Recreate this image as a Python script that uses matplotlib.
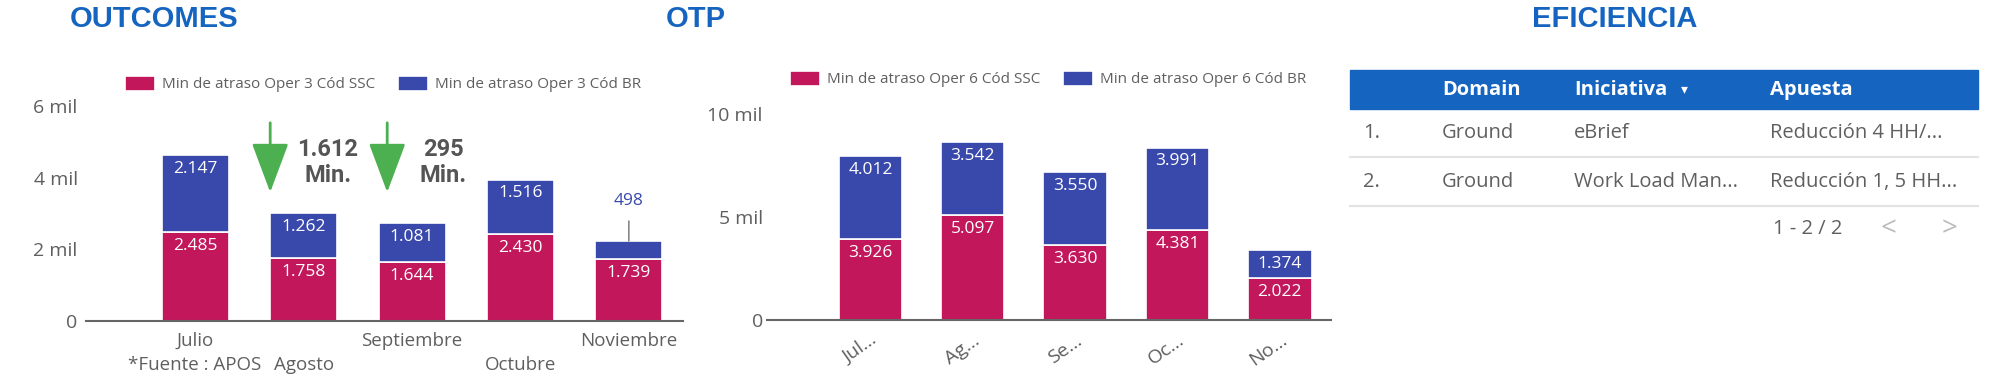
import matplotlib.pyplot as plt
from matplotlib.patches import Rectangle
import numpy as np

# OUTCOMES data
months_1 = ["Julio", "Agosto", "Septiembre", "Octubre", "Noviembre"]
ssc_1 = [2485, 1758, 1644, 2430, 1739]
br_1 = [2147, 1262, 1081, 1516, 498]

# OTP data
months_2 = ["Jul...", "Ag...", "Se...", "Oc...", "No..."]
ssc_2 = [3926, 5097, 3630, 4381, 2022]
br_2 = [4012, 3542, 3550, 3991, 1374]

# EFICIENCIA table
tbl_cols = ["Domain", "Iniciativa", "Apuesta"]
tbl_domain = ["Ground", "Ground"]
tbl_iniciativa = ["eBrief", "Work Load Man..."]
tbl_apuesta = ["Reducción 4 HH/...", "Reducción 1, 5 HH..."]

PINK = "#C2185B"
BLUE = "#3949AB"
TITLE = "#1565C0"
GRAY = "#5f5f5f"
GREEN = "#4CAF50"
FONT = "Open Sans"

W, H = 2000, 381
fig = plt.figure(figsize=(W / 100, H / 100), dpi=100)
plt.rcParams['font.family'] = [FONT, 'DejaVu Sans']


def fmt(v):
    return f"{v:,}".replace(",", ".")


def px_axes(left, right, top, bottom):
    return fig.add_axes([left / W, 1 - bottom / H, (right - left) / W, (bottom - top) / H])


def stacked(ax, cats, ssc, br, ymax, ticks, ticklabels, leg_labels, leg_center, inside_min):
    x = np.arange(len(cats))
    ax.bar(x, ssc, width=0.62, color=PINK, edgecolor="white", linewidth=1.2, label=leg_labels[0])
    ax.bar(x, br, width=0.62, bottom=ssc, color=BLUE, edgecolor="white", linewidth=1.2, label=leg_labels[1])
    ax.set_ylim(0, ymax)
    ax.set_xlim(-1.01, 4.5)
    for s in ["top", "right", "left"]:
        ax.spines[s].set_visible(False)
    ax.spines["bottom"].set_color("#666666")
    ax.spines["bottom"].set_linewidth(1.5)
    ax.set_yticks(ticks, ticklabels)
    ax.tick_params(axis="y", length=0, labelsize=14, labelcolor=GRAY, pad=6)
    ax.tick_params(axis="x", length=0, labelsize=13.5, labelcolor=GRAY)
    for i in range(len(cats)):
        ax.annotate(fmt(ssc[i]), (x[i], ssc[i]), xytext=(0, -10), textcoords="offset points",
                    ha="center", va="center", color="white", fontsize=12.5)
        top = ssc[i] + br[i]
        if br[i] >= inside_min:
            ax.annotate(fmt(br[i]), (x[i], top), xytext=(0, -10), textcoords="offset points",
                        ha="center", va="center", color="white", fontsize=12.5)
        else:
            ax.annotate(fmt(br[i]), (x[i], top), xytext=(0, 29), textcoords="offset points",
                        ha="center", va="center", color=BLUE, fontsize=12.5,
                        arrowprops=dict(arrowstyle="-", color="#888888", lw=1.2, shrinkA=7, shrinkB=0))
    leg = ax.legend(loc="center", bbox_to_anchor=(leg_center[0] / W, 1 - leg_center[1] / H),
                    bbox_transform=fig.transFigure, ncol=2, frameon=False, fontsize=11,
                    handlelength=1.95, handleheight=1.15, handletextpad=0.45, columnspacing=1.5)
    for t in leg.get_texts():
        t.set_color(GRAY)
    return x


# OUTCOMES chart
ax1 = px_axes(86, 683, 106, 321)
x1 = stacked(ax1, months_1, ssc_1, br_1, 6000, [0, 2000, 4000, 6000],
             ["0", "2 mil", "4 mil", "6 mil"],
             ["Min de atraso Oper 3 Cód SSC", "Min de atraso Oper 3 Cód BR"], (383, 84), 600)
ax1.set_xticks(x1, [m if i % 2 == 0 else "\n" + m for i, m in enumerate(months_1)])
ax1.tick_params(axis="x", pad=8)
for lbl in ax1.get_xticklabels():
    lbl.set_linespacing(1.4)

# green arrows and reduction notes
for xa, xt, txt in [(0.69, 1.22, "1.612\nMin."), (1.77, 2.29, "295\nMin.")]:
    ax1.annotate("", xy=(xa, 3516), xytext=(xa, 5609),
                 arrowprops=dict(arrowstyle="-|>,head_length=1.55,head_width=0.58",
                                 mutation_scale=20, lw=2, color=GREEN), annotation_clip=False)
    ax1.text(xt, 4423, txt, ha="center", va="center", fontsize=17, fontweight="bold",
             color="#555555", linespacing=1.2, family="Roboto")

fig.text(261 / W, 1 - 365 / H, "*Fuente : APOS", ha="right", va="center", fontsize=13.5, color=GRAY)

# OTP chart
ax2 = px_axes(767, 1331, 114, 320)
x2 = stacked(ax2, months_2, ssc_2, br_2, 10000, [0, 5000, 10000],
             ["0", "5 mil", "10 mil"],
             ["Min de atraso Oper 6 Cód SSC", "Min de atraso Oper 6 Cód BR"], (1048, 79), 600)
ax2.set_xticks(x2, months_2, rotation=35, ha="right", rotation_mode="anchor")
ax2.tick_params(axis="x", pad=8, labelsize=14)
ax2.tick_params(axis="y", pad=3)

# titles
for tx, ha, title in [(70, "left", "OUTCOMES"), (666, "left", "OTP"), (1615, "center", "EFICIENCIA")]:
    fig.text(tx / W, 1 - 19 / H, title, ha=ha, va="center", fontsize=21,
             fontweight="bold", color=TITLE, family="Liberation Sans")

# EFICIENCIA table
axt = fig.add_axes([0, 0, 1, 1])
axt.set_xlim(0, W)
axt.set_ylim(H, 0)
axt.axis("off")
axt.add_patch(Rectangle((1350, 70), 628, 39, color="#1565C0"))
col_x = [1442, 1574, 1770]
for cx, name in zip(col_x, tbl_cols):
    axt.text(cx, 90, name, ha="left", va="center", color="white", fontsize=14.5, fontweight="bold")
axt.text(1684, 90, "▾", ha="center", va="center", color="white", fontsize=10)
row_y = [133, 182]
for i, ry in enumerate(row_y):
    axt.text(1363, ry, f"{i + 1}.", ha="left", va="center", color=GRAY, fontsize=14.5)
    axt.text(col_x[0], ry, tbl_domain[i], ha="left", va="center", color=GRAY, fontsize=14.5)
    axt.text(col_x[1], ry, tbl_iniciativa[i], ha="left", va="center", color=GRAY, fontsize=14.5)
    axt.text(col_x[2], ry, tbl_apuesta[i], ha="left", va="center", color=GRAY, fontsize=14.5)
    axt.plot([1350, 1978], [ry + 24, ry + 24], color="#e3e3e3", lw=1.5)
axt.text(1808, 229, "1 - 2 / 2", ha="center", va="center", color=GRAY, fontsize=14.5)
axt.text(1889, 229, "<", ha="center", va="center", color="#bbbbbb", fontsize=20)
axt.text(1950, 229, ">", ha="center", va="center", color="#bbbbbb", fontsize=20)

fig.savefig("out.png", dpi=100)
